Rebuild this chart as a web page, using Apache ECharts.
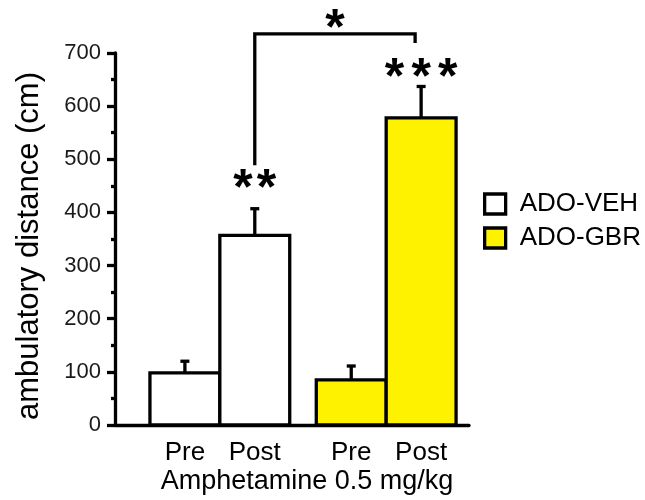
<!DOCTYPE html>
<html><head><meta charset="utf-8">
<script src="https://cdn.jsdelivr.net/npm/echarts@6/dist/echarts.min.js"></script>
<style>html,body{margin:0;padding:0;background:#fff}#c{width:645px;height:500px}</style>
</head><body><div id="c"></div>
<script>
// ---- data ----
const groups = ['ADO-VEH', 'ADO-GBR'];
const conditions = ['Pre', 'Post'];
const vehMean = [98, 357];
const vehSem = [22, 50];
const gbrMean = [85, 578];
const gbrSem = [26, 59];
const yTickValues = [0, 100, 200, 300, 400, 500, 600, 700];
const xAxisTitle = 'Amphetamine 0.5 mg/kg';
const yAxisTitle = 'ambulatory distance (cm)';
const vehPostStars = '**';
const gbrPostStars = '***';
const betweenStars = '*';

// ---- layout (axis units: one bar width = 1) ----
const LEFT_PAD = 0.5, BAR_W = 1, GROUP_GAP = 0.38, X_MAX = 5.065;
const FONT = '"Liberation Sans", Arial, sans-serif';
const LW = 3.3;
function xCenter(g, c) { return LEFT_PAD + g * (2 * BAR_W + GROUP_GAP) + (c + 0.5) * BAR_W; }
// annotation heights (value units)
const BRACKET_TOP = 736, BRACKET_LEFT_BOTTOM = 489, BRACKET_RIGHT_BOTTOM = 719;
const STAR_VEH_Y = 467, STAR_GBR_Y = 676, STAR_TOP_Y = 767;
const STAR_FS = 50;

function makeData(g, means, sems) {
  return conditions.map((c, i) => [xCenter(g, i), means[i], sems[i], i]);
}

function renderBar(fill) {
  return function (params, api) {
    const xc = api.value(0), mean = api.value(1), sem = api.value(2);
    const label = conditions[api.value(3)];
    const p0 = api.coord([xc - BAR_W / 2, 0]);
    const p1 = api.coord([xc + BAR_W / 2, mean]);
    const pc = api.coord([xc, mean]);
    const pe = api.coord([xc, mean + sem]);
    return {
      type: 'group', children: [
        { type: 'line', shape: { x1: pc[0], y1: pc[1], x2: pe[0], y2: pe[1] }, style: { stroke: '#000', lineWidth: LW } },
        { type: 'line', shape: { x1: pe[0] - 4.5, y1: pe[1], x2: pe[0] + 4.5, y2: pe[1] }, style: { stroke: '#000', lineWidth: LW } },
        { type: 'rect', shape: { x: p0[0], y: p1[1], width: p1[0] - p0[0], height: p0[1] - p1[1] }, style: { fill: fill, stroke: '#000', lineWidth: LW } },
        { type: 'text', style: { text: label, x: pc[0], y: p0[1] + 15, align: 'center', verticalAlign: 'top', font: '26px ' + FONT, fill: '#000' } }
      ]
    };
  };
}

function starTexts(str, cx, cy, spacing) {
  const n = str.length, out = [];
  for (let i = 0; i < n; i++) {
    const x = cx + (i - (n - 1) / 2) * spacing;
    out.push({ type: 'text', style: { text: str[i], x: x, y: cy + 0.26 * STAR_FS, align: 'center', verticalAlign: 'middle', font: 'bold ' + STAR_FS + 'px ' + FONT, fill: '#000' } });
  }
  return out;
}

function renderSig(params, api) {
  const xa = xCenter(0, 1), xb = xCenter(1, 1);
  const a0 = api.coord([xa, BRACKET_LEFT_BOTTOM]);
  const a1 = api.coord([xa, BRACKET_TOP]);
  const b1 = api.coord([xb, BRACKET_TOP]);
  const b0 = api.coord([xb, BRACKET_RIGHT_BOTTOM]);
  const rx = b1[0] - 6;
  const sv = api.coord([xa, STAR_VEH_Y]);
  const sg = api.coord([xb, STAR_GBR_Y]);
  const st = api.coord([(xa + xb) / 2, STAR_TOP_Y]);
  return {
    type: 'group', children: [
      { type: 'polyline', shape: { points: [[a0[0], a0[1]], [a1[0], a1[1]], [rx, b1[1]], [rx, b0[1]]] }, style: { stroke: '#000', lineWidth: LW, fill: null } }
    ].concat(starTexts(vehPostStars, sv[0], sv[1], 23.5))
     .concat(starTexts(gbrPostStars, sg[0], sg[1], 26.7))
     .concat(starTexts(betweenStars, (a1[0] + rx) / 2, st[1], 0))
  };
}

const chart = echarts.init(document.getElementById('c'), null, { renderer: 'canvas' });
chart.setOption({
  animation: false,
  backgroundColor: '#fff',
  grid: { left: 115, top: 53, right: 176, bottom: 75, containLabel: false, outerBoundsMode: 'none' },
  legend: {
    orient: 'vertical', left: 478, top: 186, itemWidth: 21, itemHeight: 20, itemGap: 8, icon: 'rect',
    textStyle: { fontSize: 26, fontFamily: FONT, color: '#000', padding: [0, 0, 0, 9], lineHeight: 26 },
    data: [
      { name: groups[0], itemStyle: { color: '#ffffff', borderColor: '#000', borderWidth: LW } },
      { name: groups[1], itemStyle: { color: '#fff200', borderColor: '#000', borderWidth: LW } }
    ]
  },
  xAxis: {
    type: 'value', min: 0, max: X_MAX,
    axisLine: { show: true, onZero: true, lineStyle: { color: '#000', width: LW } },
    axisTick: { show: false }, axisLabel: { show: false }, splitLine: { show: false },
    name: xAxisTitle, nameLocation: 'middle', nameGap: 43,
    nameTextStyle: { fontSize: 27, fontFamily: FONT, color: '#000', padding: [0, 0, 0, 30] }
  },
  yAxis: {
    type: 'value', min: yTickValues[0], max: yTickValues[yTickValues.length - 1], interval: 100,
    axisLine: { show: true, lineStyle: { color: '#000', width: LW } },
    axisTick: { show: true, inside: false, length: 8, lineStyle: { color: '#000', width: LW } },
    minorTick: { show: true, splitNumber: 2, length: 4, lineStyle: { color: '#000', width: LW } },
    splitLine: { show: false },
    axisLabel: { fontSize: 22, fontFamily: FONT, color: '#1a1a1a', margin: 14 },
    name: yAxisTitle, nameLocation: 'middle', nameGap: 70,
    nameTextStyle: { fontSize: 31, fontFamily: FONT, color: '#000', padding: [0, 14, 0, 0] }
  },
  series: [
    { name: groups[0], type: 'custom', renderItem: renderBar('#ffffff'), encode: { x: 0, y: 1 },
      itemStyle: { color: '#ffffff', borderColor: '#000', borderWidth: LW }, data: makeData(0, vehMean, vehSem) },
    { name: groups[1], type: 'custom', renderItem: renderBar('#fff200'), encode: { x: 0, y: 1 },
      itemStyle: { color: '#fff200', borderColor: '#000', borderWidth: LW }, data: makeData(1, gbrMean, gbrSem) },
    { name: 'significance', type: 'custom', renderItem: renderSig, encode: { x: 0, y: 1 }, silent: true,
      data: [[xCenter(0, 1), BRACKET_TOP]] }
  ]
});
</script></body></html>
